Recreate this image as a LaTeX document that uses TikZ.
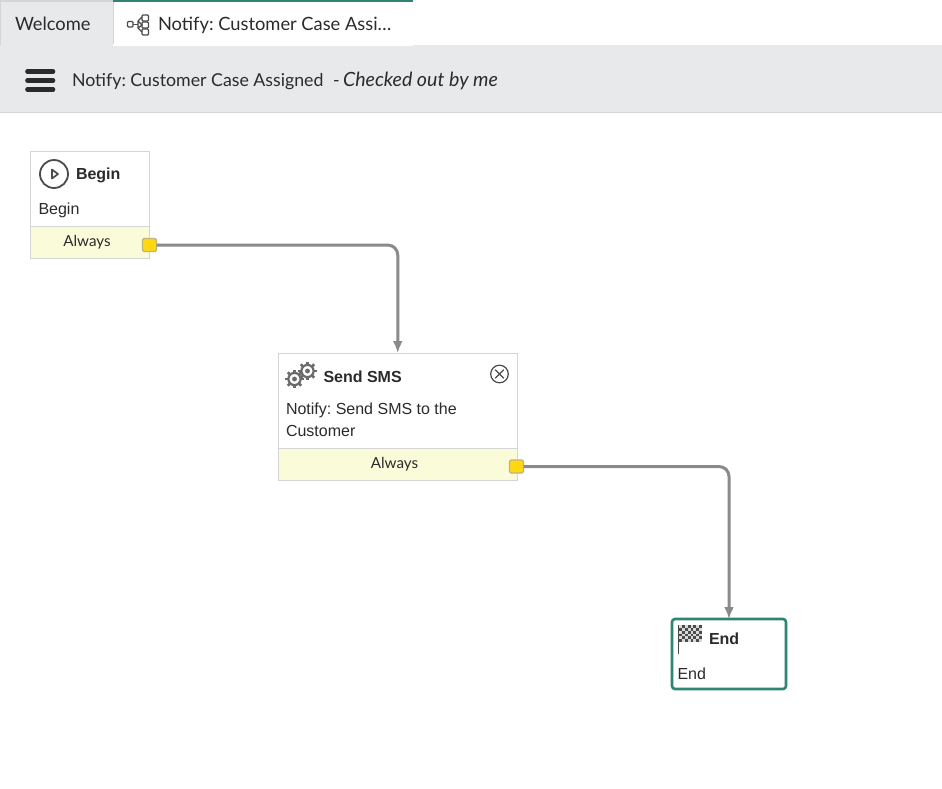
\documentclass[tikz,border=0pt]{standalone}
\usepackage{fontspec}
\setmainfont{Liberation Sans}
\newfontfamily\uifont{Lato}
\usetikzlibrary{arrows.meta}
\definecolor{bar}{HTML}{E8E9EB}
\definecolor{edge}{HTML}{D4D5D7}
\definecolor{teal}{HTML}{2E8573}
\definecolor{ink}{HTML}{2B2B2B}
\definecolor{lane}{HTML}{FAFBD9}
\definecolor{gold}{HTML}{FFD812}
\definecolor{wire}{HTML}{8A8A8A}
\tikzset{
  x=1pt,y=-1pt,
  every node/.style={inner sep=0pt,outer sep=0pt,text=ink},
  boxshape/.style={draw=edge,line width=0.9pt,fill=white,anchor=north west},
  lanebox/.style={draw=edge,line width=0.7pt,fill=lane,anchor=north west},
  portbox/.style={draw=gold!55!black!55!white,line width=1.2pt,fill=gold,rounded corners=1.5pt,minimum width=14pt,minimum height=13pt},
  conn/.style={draw=wire,line width=3pt,rounded corners=10pt,-{Latex[length=12pt,width=10pt]}},
  titletext/.style={anchor=base west,font=\fontsize{16}{16}\selectfont\bfseries},
  bodytext/.style={anchor=base west,font=\frenchspacing\fontsize{16}{22}\selectfont},
  lanetext/.style={anchor=base,font=\uifont\fontsize{15.2}{16}\selectfont},
  uitext/.style={anchor=base west,font=\frenchspacing\uifont\fontsize{18.3}{20}\selectfont,text=ink},
  headtext/.style={anchor=base west,font=\frenchspacing\uifont\fontsize{17.75}{20}\selectfont,text=ink},
  headital/.style={anchor=base west,font=\frenchspacing\uifont\itshape\fontsize{19.6}{20}\selectfont,text=ink},
  icon/.style={draw=ink!85!white,line width=1pt}
}
\newcommand{\gearicon}[3]{%
  \foreach \a in {0,45,...,315}{\draw[ink!70!white,line width=2.6pt] (#1,#2)++(\a:#3*0.75pt) -- ++(\a:#3*0.3pt);}
  \draw[ink!70!white,line width=2.2pt,fill=white] (#1,#2) circle[radius=#3*0.68pt];
  \fill[ink!70!white] (#1,#2) circle[radius=#3*0.27pt];
}
\begin{document}
\begin{tikzpicture}
\useasboundingbox (0,0) rectangle (942,788);
\fill[white] (0,0) rectangle (942,788);
% tabs and toolbar
\node[draw=edge,line width=0.8pt,fill=bar,minimum width=113pt,minimum height=45pt,anchor=north west] (tabwelcome) at (0.4,0.4) {};
\fill[edge] (0,0) rectangle (113,2);
\fill[teal] (113,0) rectangle (413,2);
\node[uitext] (welcometext) at (15,30) {Welcome};
\draw[icon,line width=1.3pt,rounded corners=1pt] (127.5,21.5) rectangle (133,27);
\draw[icon,line width=1pt] (133,24) -- (138,24);
\draw[icon,line width=1.3pt,rounded corners=1pt] (142,15) rectangle (148.5,21);
\draw[icon,line width=1.3pt,rounded corners=1pt] (142,22) rectangle (148.5,28);
\draw[icon,line width=1.3pt,rounded corners=1pt] (142,29) rectangle (148.5,35);
\draw[icon,line width=1.3pt] (138,21) -- (142,17) (138,21) -- (138,28) -- (142,32) (138,21) -- (142,25) -- (138,28);
\node[uitext] (tabtext) at (158,30) {Notify: Customer Case Assi…};
\fill[bar] (0,45) rectangle (942,112);
\fill[edge] (0,112) rectangle (942,113);
\fill[white] (113,44) rectangle (413,45.5);
\foreach \yy in {71.5,80.5,89.5}{\draw[ink,line width=4.6pt,line cap=round] (27.5,\yy) -- (53,\yy);}
\node[headtext] (headertext) at (72,86) {Notify: Customer Case Assigned};
\node[headtext] (headerdash) at (333,86) {-};
\node[headital] (headeritalic) at (343,86) {Checked out by me};
% Begin
\node[boxshape,minimum width=119.5pt,minimum height=107pt] (beginbox) at (30,151) {};
\node[lanebox,minimum width=119.5pt,minimum height=32.5pt] (beginlane) at (30,226) {};
\draw[icon,line width=1.8pt] (54,174) circle[radius=14pt];
\draw[icon,line width=1.7pt,line join=round] (52,169.5) -- (58,174) -- (52,178.5) -- cycle;
\node[titletext] (begintitle) at (76,179) {Begin};
\node[bodytext] (beginbody) at (38.5,214) {Begin};
\node[lanetext] (beginalways) at (87,246) {Always};
\node[portbox] (beginport) at (149.5,245) {};
% Send SMS
\node[boxshape,minimum width=239.5pt,minimum height=127pt] (smsbox) at (278,353) {};
\node[lanebox,minimum width=239.5pt,minimum height=32pt] (smslane) at (278,448) {};
\gearicon{294.5}{379}{9}
\gearicon{307.5}{371}{9}
\node[titletext] (smstitle) at (323.5,382) {Send SMS};
\draw[icon,line width=1.2pt] (499.5,374) circle[radius=8.8pt];
\draw[icon,line width=1.2pt] (495.2,369.7) -- (503.8,378.3) (495.2,378.3) -- (503.8,369.7);
\node[bodytext] (smsbody) at (286,414) {Notify: Send SMS to the};
\node[bodytext] (smsbody2) at (286,436) {Customer};
\node[lanetext] (smsalways) at (394.5,468) {Always};
\node[portbox] (smsport) at (516.5,466.5) {};
% End
\node[draw=teal,line width=2.6pt,fill=white,rounded corners=3pt,anchor=north west,minimum width=114pt,minimum height=70pt] (endbox) at (672,619) {};
\draw[ink!85!white,line width=1.4pt] (678.5,625) -- (678.5,654);
\fill[ink!85!white] (679,625) rectangle (702,642);
\foreach \i in {0,...,7}{\foreach \j in {0,...,5}{
  \pgfmathparse{int(mod(\i+\j,2))}
  \ifnum\pgfmathresult=0
    \fill[white!70!gray] ({679+\i*2.875},{625+\j*2.83}) rectangle ++(2.875,2.83);
  \fi
}}
\node[titletext] (endtitle) at (709,644) {End};
\node[bodytext] (endbody) at (677.5,679) {End};
% connectors
\draw[conn] (beginport.east) -| (smsbox.north);
\draw[conn] (smsport.east) -| (endbox.north);
\end{tikzpicture}
\end{document}
